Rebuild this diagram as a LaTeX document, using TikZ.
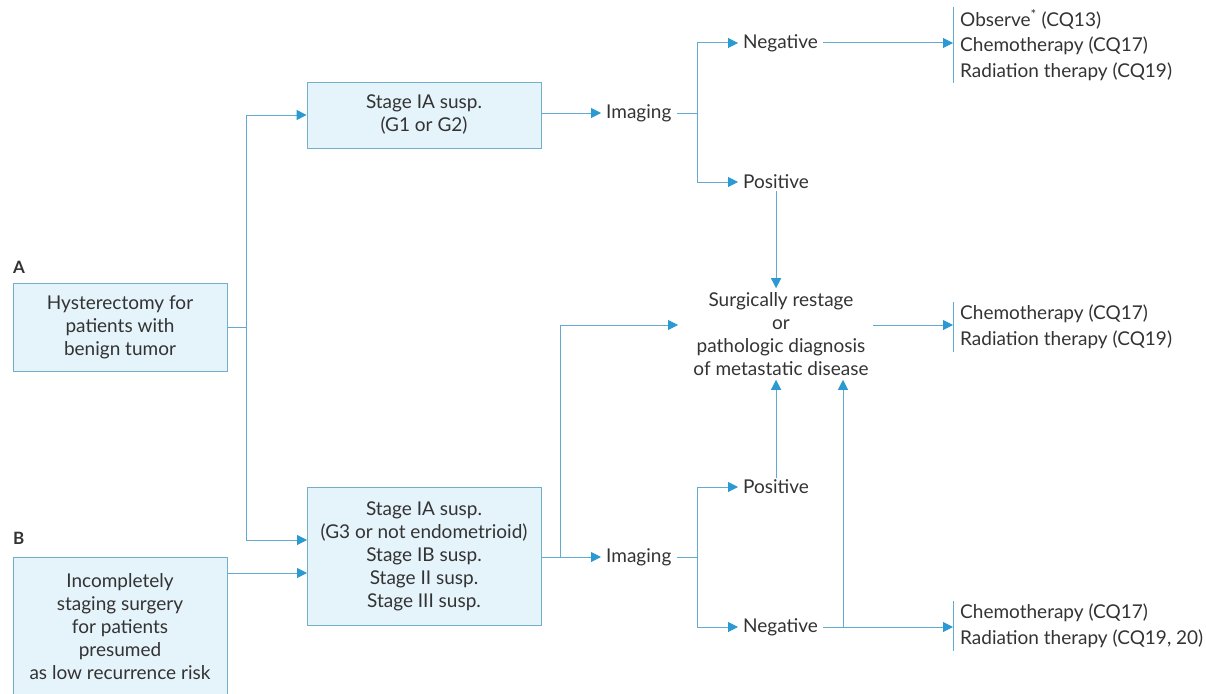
\documentclass[tikz,border=0pt]{standalone}
\usepackage{fontspec}
\setmainfont{Lato}
\usetikzlibrary{arrows.meta,calc}
\definecolor{arrowblue}{HTML}{2B9AD2}
\definecolor{lineblue}{HTML}{62AAD2}
\definecolor{boxfill}{HTML}{E5F3FB}
\definecolor{boxline}{HTML}{73AFC8}
\definecolor{txt}{HTML}{333333}
\begin{document}
\begin{tikzpicture}[x=1pt,y=-1pt,
  every node/.style={font=\fontsize{19}{23}\selectfont, text=txt},
  box/.style={draw=boxline, fill=boxfill, line width=0.8pt, align=center, inner sep=0pt},
  lbl/.style={inner xsep=5pt, inner ysep=2pt},
  lst/.style={anchor=west, align=left, inner xsep=7pt, inner ysep=3pt, font=\fontsize{19}{25.5}\selectfont},
  brk/.style={draw=lineblue, line width=0.9pt},
  conn/.style={draw=lineblue, line width=1pt},
  arr/.style={conn, -{Triangle[length=10pt,width=10pt,color=arrowblue]}},
  tag/.style={font=\fontsize{17}{18}\bfseries, anchor=west, inner sep=0pt},
]
\useasboundingbox (0,0) rectangle (1206,693);

% labels
\node[tag] (labA) at (13,267) {A};
\node[tag] (labB) at (13,538) {B};

% boxes
\node[box, minimum width=214pt, minimum height=88pt] (hA) at (120,327)
  {Hysterectomy for\\patients with\\benign tumor};
\node[box, minimum width=214pt, minimum height=139pt] (hB) at (120,626.5)
  {Incompletely\\staging surgery\\for patients\\presumed\\as low recurrence risk};
\node[box, minimum width=234pt, minimum height=66pt] (sA) at (424,115)
  {Stage IA susp.\\(G1 or G2)};
\node[box, minimum width=234pt, minimum height=138pt] (sB) at (424,556)
  {Stage IA susp.\\(G3 or not endometrioid)\\Stage IB susp.\\Stage II susp.\\Stage III susp.};

% text nodes
\node[lbl, anchor=west] (imgA) at (601,113) {Imaging};
\node[lbl, anchor=west] (imgB) at (601,557) {Imaging};
\node[lbl, anchor=west] (negA) at (738,43) {Negative};
\node[lbl, anchor=west] (posA) at (738,182) {Positive};
\node[lbl, anchor=west] (posB) at (738,487) {Positive};
\node[lbl, anchor=west] (negB) at (738,627) {Negative};
\node[align=center, inner sep=4pt] (surg) at (781,334)
  {Surgically restage\\or\\pathologic diagnosis\\of metastatic disease};

\node[lst] (rA) at (953,45) {Observe\textsuperscript{*} (CQ13)\\Chemotherapy (CQ17)\\Radiation therapy (CQ19)};
\node[lst] (rB) at (953,327) {Chemotherapy (CQ17)\\Radiation therapy (CQ19)};
\node[lst] (rC) at (953,626) {Chemotherapy (CQ17)\\Radiation therapy (CQ19, 20)};
\draw[brk] (rA.north west) -- (rA.south west);
\draw[brk] (rB.north west) -- (rB.south west);
\draw[brk] (rC.north west) -- (rC.south west);

% coordinates
\coordinate (j1) at (246,327);
\coordinate (sBin) at (307,540);
\coordinate (hBout) at (307,573);
\coordinate (jA) at (697,113);
\coordinate (jB) at (697,557);
\coordinate (jS) at (560,557);
\coordinate (surgIn) at (678,325);
\coordinate (jN) at (843,627);

% connectors
\draw[conn] (hA.east |- j1) -- (j1);
\draw[arr] (j1) |- (sA.west);
\draw[arr] (j1) |- (sBin);
\draw[arr] (hB.east |- hBout) -- (hBout);

\draw[arr] (sA.east |- imgA) -- (imgA.west);
\draw[conn] (imgA.east) -- (jA);
\draw[arr] (jA) |- (negA.west);
\draw[arr] (jA) |- (posA.west);
\draw[arr] (negA.east) -- (rA.west |- negA);
\draw[arr] (posA.south) -- (posA.south |- surg.north);

\draw[arr] (sB.east |- imgB) -- (imgB.west);
\draw[arr] (jS) |- (surgIn);
\draw[conn] (imgB.east) -- (jB);
\draw[arr] (jB) |- (posB.west);
\draw[arr] (jB) |- (negB.west);
\draw[arr] (posB.north) -- (posB.north |- surg.south);
\draw[arr] (negB.east) -- (rC.west |- negB);
\draw[arr] (jN) -- (jN |- surg.south);
\draw[arr] (surg.east |- surgIn) -- (rB.west |- surgIn);
\end{tikzpicture}
\end{document}
